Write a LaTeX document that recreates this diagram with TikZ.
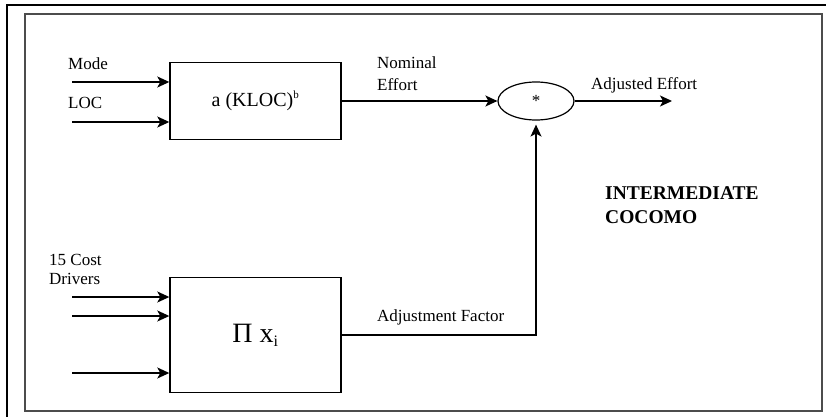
\documentclass[tikz,border=0pt]{standalone}
\usepackage{fontspec}
\setmainfont{Liberation Serif}
\usetikzlibrary{positioning, arrows.meta, shapes.geometric}

\begin{document}
\begin{tikzpicture}[
  x=1pt, y=-1pt,
  font=\fontsize{17}{21}\selectfont,
  block/.style={rectangle, draw, line width=1.4pt, inner sep=0pt, minimum width=171pt},
  mult/.style={ellipse, draw, line width=1.2pt, minimum width=76pt, minimum height=38pt, inner sep=0pt},
  arr/.style={-{Stealth[length=12pt, width=11pt, inset=3pt]}, line width=1.4pt},
  lbl/.style={inner sep=0pt, align=left, anchor=west},
  title/.style={lbl, font=\fontsize{19.5}{24}\selectfont\bfseries}
]
\useasboundingbox (0,0) rectangle (826,417);

% frames
\draw[line width=2.5pt] (7,420) -- (7,5) -- (830,5);
\draw[line width=1.6pt, black!70] (25,14) rectangle (822,411);

% blocks
\node[block, minimum height=77pt] (nominal) at (255.5,101) {\fontsize{20}{22}\selectfont a (KLOC)\textsuperscript{\fontsize{11}{11}\selectfont b}};
\node[block, minimum height=115pt] (factor) at (255.5,335) {\fontsize{28}{30}\selectfont Π x\textsubscript{\fontsize{16}{16}\selectfont i}};
\node[mult] (times) at (536,101) {\raisebox{-4pt}{\fontsize{17}{17}\selectfont *}};

% free ends
\coordinate (mode) at (72,82);
\coordinate (loc) at (72,122);
\coordinate (cd1) at (72,297);
\coordinate (cd2) at (72,316);
\coordinate (cd3) at (72,373);
\coordinate (adjusted) at (672,101);

% inputs
\draw[arr] (mode) -- (mode -| nominal.west);
\draw[arr] (loc) -- (loc -| nominal.west);
\draw[arr] (cd1) -- (cd1 -| factor.west);
\draw[arr] (cd2) -- (cd2 -| factor.west);
\draw[arr] (cd3) -- (cd3 -| factor.west);

% outputs
\draw[arr] (nominal.east) -- (times.west);
\draw[arr] (times.east) -- (adjusted);
\draw[arr, shorten >=4pt] (factor.east) -| (times.south);

% labels
\node[lbl] (modelbl) at (68,64) {Mode};
\node[lbl] (loclbl) at (68,103) {LOC};
\node[lbl, font=\fontsize{17}{19}\selectfont] (cdlbl) at (49,269.5) {15 Cost\\Drivers};
\node[lbl, font=\fontsize{17}{22}\selectfont] (nomlbl) at (377,74) {Nominal\\Effort};
\node[lbl] (adjlbl) at (591,85) {Adjusted Effort};
\node[lbl] (faclbl) at (377,317) {Adjustment Factor};
\node[title] (cocomo) at (605,205) {INTERMEDIATE\\COCOMO};
\end{tikzpicture}
\end{document}
